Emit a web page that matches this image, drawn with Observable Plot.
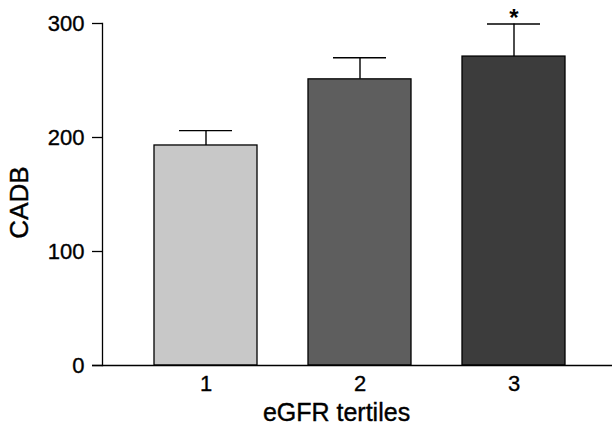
<!DOCTYPE html>
<html>
<head>
<meta charset="utf-8">
<script src="https://cdn.jsdelivr.net/npm/d3@7"></script>
<script src="https://cdn.jsdelivr.net/npm/@observablehq/plot@0.6"></script>
<style>
  html, body { margin: 0; padding: 0; background: #fff; }
  #chart svg { display: block; font-family: "Liberation Sans", Arial, sans-serif; }
</style>
</head>
<body>
<div id="chart"></div>
<script>
const tertiles = ["1", "2", "3"];
const means = [193, 251, 271];
const errTops = [206, 270, 299.5];
const signif = ["", "", "*"];
const fills = ["#c8c8c8", "#5e5e5e", "#3c3c3c"];
const yTicks = [0, 100, 200, 300];

const data = tertiles.map((t, i) => ({t, mean: means[i], err: errTops[i], sig: signif[i]}));

const chart = Plot.plot({
  width: 612,
  height: 427,
  marginLeft: 102,
  marginRight: 0,
  marginTop: 23,
  marginBottom: 62,
  style: {fontFamily: "'Liberation Sans', Arial, sans-serif", fontSize: "22px", color: "#000", background: "#fff"},
  x: {type: "band", domain: tertiles, paddingInner: 0.333, paddingOuter: 0.317, align: 0.52},
  y: {domain: [0, 300]},
  color: {type: "ordinal", domain: tertiles, range: fills},
  marks: [
    Plot.ruleX(data, {x: "t", y1: "mean", y2: "err", stroke: "#000", strokeWidth: 1.4}),
    Plot.tickY(data, {x: "t", y: "err", stroke: "#000", strokeWidth: 1.4, insetLeft: 25, insetRight: 25}),
    Plot.barY(data, {x: "t", y: "mean", fill: "t", stroke: "#000", strokeWidth: 1.3}),
    Plot.text(data, {x: "t", y: "err", text: "sig", dy: -6, fontSize: 24, fontWeight: "bold", fill: "#000"}),
    Plot.frame({anchor: "left", stroke: "#000", strokeWidth: 1.3}),
    Plot.ruleY([0], {stroke: "#000", strokeWidth: 1.3, insetLeft: -10}),
    Plot.axisY({ticks: yTicks, tickSize: 10, tickPadding: 8, tickFormat: d3.format("d"), fontSize: 22, label: null, strokeWidth: 1.3, textStroke: "#000", textStrokeWidth: 0.35}),
    Plot.axisX({tickSize: 0, tickPadding: 10, fontSize: 22, label: null, textStroke: "#000", textStrokeWidth: 0.35}),
    Plot.text(["eGFR tertiles"], {frameAnchor: "bottom", dx: -21, dy: 55, lineAnchor: "bottom", fontSize: 25, fill: "#000", stroke: "#000", strokeWidth: 0.4}),
    Plot.text(["CADB"], {frameAnchor: "left", textAnchor: "middle", rotate: -90, dx: -83, dy: 8, fontSize: 26, fill: "#000", stroke: "#000", strokeWidth: 0.4})
  ]
});
document.getElementById("chart").appendChild(chart);
</script>
</body>
</html>
